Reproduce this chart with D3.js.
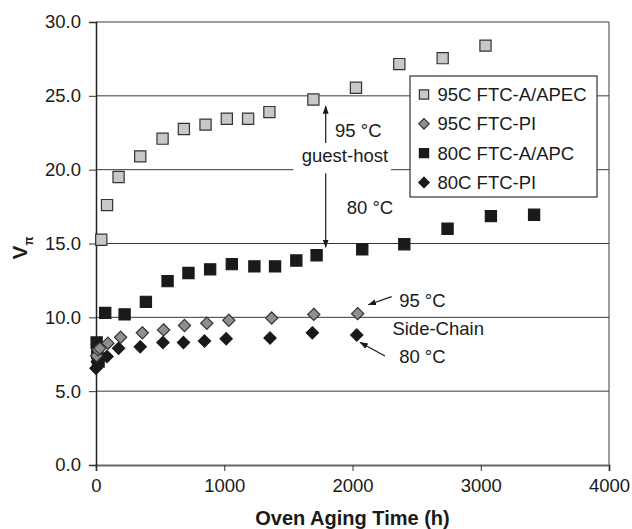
<!DOCTYPE html>
<html>
<head>
<meta charset="utf-8">
<script src="https://cdn.jsdelivr.net/npm/d3@7"></script>
<style>
  body { margin: 0; background: #fff; }
  svg text { font-family: "Liberation Sans", Arial, sans-serif; fill: #1a1a1a; }
</style>
</head>
<body>
<div id="chart"></div>
<script>
// series: [hours, V_pi]
const apec95 = [[41, 15.25], [86, 17.6], [176, 19.5], [345, 20.9], [519, 22.1], [685, 22.75], [854, 23.05],
  [1020, 23.45], [1186, 23.45], [1352, 23.9], [1695, 24.75], [2027, 25.55], [2365, 27.15], [2703, 27.55], [3037, 28.4]];
const pi95 = [[5, 7.4], [15, 7.8], [30, 7.9], [93, 8.25], [192, 8.65], [361, 8.95], [527, 9.15], [690, 9.45],
  [864, 9.6], [1036, 9.8], [1370, 9.95], [1698, 10.2], [2040, 10.25]];
const apc80 = [[5, 8.3], [10, 7.6], [15, 7.2], [20, 7.0], [72, 10.3], [223, 10.2], [389, 11.05], [558, 12.45],
  [721, 13.0], [890, 13.25], [1059, 13.6], [1235, 13.45], [1396, 13.45], [1562, 13.85], [1720, 14.2],
  [2076, 14.6], [2404, 14.95], [2741, 16.0], [3079, 16.85], [3416, 16.95]];
const pi80 = [[0, 6.55], [10, 7.0], [20, 7.2], [86, 7.35], [176, 7.9], [345, 8.0], [522, 8.3], [682, 8.3],
  [846, 8.4], [1015, 8.55], [1357, 8.6], [1687, 8.95], [2033, 8.8]];

const seriesNames = ["95C FTC-A/APEC", "95C FTC-PI", "80C FTC-A/APC", "80C FTC-PI"];
const xTicks = [0, 1000, 2000, 3000, 4000];
const yTicks = [0, 5, 10, 15, 20, 25, 30];

const W = 632, H = 529;
const margin = {top: 22, right: 23, bottom: 64, left: 96};
const width = W - margin.left - margin.right;
const height = H - margin.top - margin.bottom;

const svg = d3.select("#chart").append("svg")
  .attr("width", W).attr("height", H);
const g = svg.append("g").attr("transform", `translate(${margin.left},${margin.top})`);

const x = d3.scaleLinear().domain([0, 4000]).range([0, width]);
const y = d3.scaleLinear().domain([0, 30]).range([height, 0]);

// gridlines
g.selectAll(".grid").data(yTicks.filter(d => d > 0))
  .join("line")
  .attr("x1", 0).attr("x2", width)
  .attr("y1", d => y(d)).attr("y2", d => y(d))
  .attr("stroke", "#3a3a3a").attr("stroke-width", 1);

// right border
g.append("line").attr("x1", width).attr("x2", width).attr("y1", 0).attr("y2", height)
  .attr("stroke", "#3a3a3a").attr("stroke-width", 1);

// axes
const yAxis = g.append("g").call(d3.axisLeft(y).tickValues(yTicks).tickFormat(d3.format(".1f")).tickSize(7).tickPadding(8));
const xAxis = g.append("g").attr("transform", `translate(0,${height})`)
  .call(d3.axisBottom(x).tickValues(xTicks).tickFormat(d3.format("d")).tickSize(6).tickPadding(8));
yAxis.select(".domain").attr("stroke", "#222").attr("stroke-width", 1.5);
xAxis.select(".domain").attr("stroke", "#666").attr("stroke-width", 2);
[xAxis, yAxis].forEach(a => {
  a.selectAll(".tick line").attr("stroke", "#333");
  a.selectAll("text").style("font-size", "18.5px").attr("fill", "#1a1a1a");
});
yAxis.raise();

// axis titles
svg.append("text")
  .attr("x", margin.left + width / 2).attr("y", 525)
  .attr("text-anchor", "middle")
  .style("font-size", "20px").style("font-weight", "bold")
  .text("Oven Aging Time (h)");

const yt = svg.append("text")
  .attr("transform", "translate(27,248) rotate(-90)")
  .attr("text-anchor", "middle")
  .style("font-size", "21px").style("font-weight", "bold");
yt.append("tspan").text("V");
yt.append("tspan").attr("dy", 6).style("font-size", "12px").text("π");

// annotations: white masks behind labels on gridlines
const masks = [[1538, 2300, 19.3, 20.7], [2305, 3090, 8.6, 9.9]];
g.selectAll(".mask").data(masks).join("rect")
  .attr("x", d => x(d[0])).attr("width", d => x(d[1]) - x(d[0]))
  .attr("y", d => y(d[3])).attr("height", d => y(d[2]) - y(d[3]))
  .attr("fill", "#fff");

svg.append("defs").append("marker")
  .attr("id", "arr").attr("viewBox", "0 0 10 10").attr("refX", 9).attr("refY", 5)
  .attr("markerWidth", 7).attr("markerHeight", 7).attr("orient", "auto-start-reverse")
  .append("path").attr("d", "M0,1.5 L10,5 L0,8.5 Z").attr("fill", "#1a1a1a");

const arrows = [
  [1791, 21.8, 1791, 24.3],
  [1791, 19.75, 1791, 14.75],
  [2305, 11.4, 2125, 10.85],
  [2253, 7.38, 2060, 8.3]
];
g.selectAll(".arrow").data(arrows).join("line")
  .attr("x1", d => x(d[0])).attr("y1", d => y(d[1]))
  .attr("x2", d => x(d[2])).attr("y2", d => y(d[3]))
  .attr("stroke", "#1a1a1a").attr("stroke-width", 1.2)
  .attr("marker-end", "url(#arr)");

const notes = [
  ["95 °C", 2045, 22.68],
  ["guest-host", 1941, 20.99],
  ["80 °C", 2136, 17.47],
  ["Side-Chain", 2668, 9.21],
  ["95 °C", 2545, 11.17],
  ["80 °C", 2545, 7.33]
];
g.selectAll(".note").data(notes).join("text")
  .attr("x", d => x(d[1])).attr("y", d => y(d[2]))
  .attr("text-anchor", "middle").attr("dominant-baseline", "central")
  .style("font-size", "18.5px")
  .text(d => d[0]);

// markers
const sq = d3.symbol().type(d3.symbolSquare).size(125);
const dm = d3.symbol().type(d3.symbolDiamond2).size(95);
const styles = [
  {data: apec95, sym: sq, fill: "#c8c8c8", stroke: "#333"},
  {data: pi95, sym: dm, fill: "#8f8f8f", stroke: "#333"},
  {data: apc80, sym: sq, fill: "#1a1a1a", stroke: "#1a1a1a"},
  {data: pi80, sym: dm, fill: "#1a1a1a", stroke: "#1a1a1a"}
];
// draw order: 80C first, then 95C
[2, 3, 1, 0].forEach(i => {
  const s = styles[i];
  g.append("g").selectAll("path").data(s.data).join("path")
    .attr("transform", d => `translate(${x(d[0])},${y(d[1])})`)
    .attr("d", s.sym())
    .attr("fill", s.fill).attr("stroke", s.stroke).attr("stroke-width", 1.2);
});

// legend
const lg = svg.append("g").attr("transform", "translate(410,76)");
lg.append("rect").attr("width", 187).attr("height", 121)
  .attr("fill", "#fff").attr("stroke", "#333").attr("stroke-width", 1.2);
const lsq = d3.symbol().type(d3.symbolSquare).size(85);
const ldm = d3.symbol().type(d3.symbolDiamond2).size(70);
const lrows = lg.selectAll(".lrow").data(seriesNames).join("g")
  .attr("transform", (d, i) => `translate(0,${18.5 + i * 29.3})`);
lrows.append("path")
  .attr("transform", "translate(14,0)")
  .attr("d", (d, i) => (i % 2 === 0 ? lsq : ldm)())
  .attr("fill", (d, i) => styles[i].fill)
  .attr("stroke", (d, i) => styles[i].stroke).attr("stroke-width", 1.2);
lrows.append("text")
  .attr("x", 27.5).attr("dominant-baseline", "central")
  .style("font-size", "18.5px")
  .text(d => d);
</script>
</body>
</html>
